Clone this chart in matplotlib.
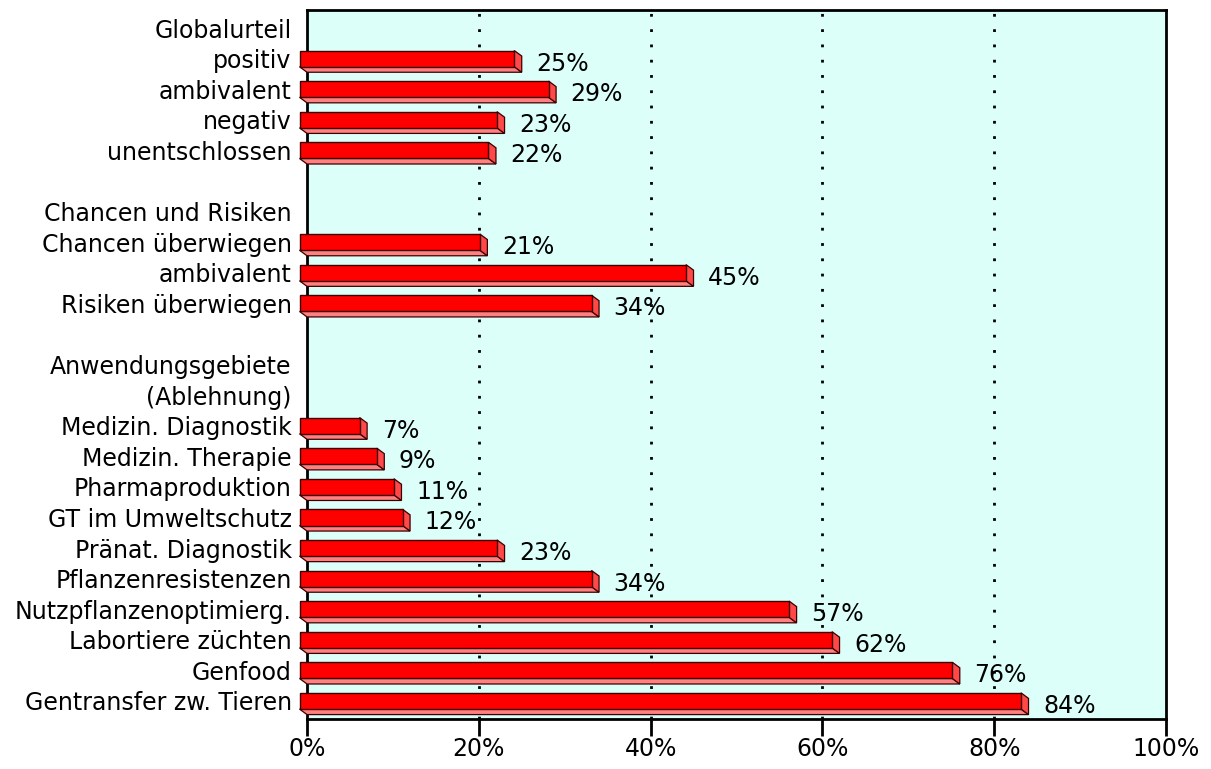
import matplotlib
matplotlib.use('Agg')
import matplotlib.pyplot as plt
from matplotlib.patches import Polygon

labels = ['Globalurteil', 'positiv', 'ambivalent', 'negativ', 'unentschlossen', '',
          'Chancen und Risiken', 'Chancen überwiegen', 'ambivalent', 'Risiken überwiegen', '',
          'Anwendungsgebiete', '(Ablehnung)', 'Medizin. Diagnostik', 'Medizin. Therapie',
          'Pharmaproduktion', 'GT im Umweltschutz', 'Pränat. Diagnostik',
          'Pflanzenresistenzen', 'Nutzpflanzenoptimierg.', 'Labortiere züchten',
          'Genfood', 'Gentransfer zw. Tieren']
values = [None, 25, 29, 23, 22, None,
          None, 21, 45, 34, None,
          None, None, 7, 9, 11, 12, 23, 34, 57, 62, 76, 84]
x_ticks = [0, 20, 40, 60, 80, 100]
x_tick_labels = ['0%', '20%', '40%', '60%', '80%', '100%']

plt.rcParams['font.family'] = 'DejaVu Sans'
fs = 17

fig = plt.figure(figsize=(12.11, 7.69), dpi=100)
ax = fig.add_axes([0.2535, 0.065, 0.7093, 0.922])
ax.set_facecolor('#dcfffa')

# 3d look: depth offset to the right (percent) and down (rows)
dx = 0.87
dy = 0.18
h = 0.53
edge = '#3a0000'

for i, v in enumerate(values):
    if v is None:
        continue
    top = i - h / 2
    bot = i + h / 2
    ax.barh(i, v, left=-dx, height=h, color='#ff0000', edgecolor=edge,
            linewidth=1.0, zorder=4, clip_on=False)
    bottom_face = Polygon([(-dx, bot), (v - dx, bot), (v, bot + dy), (0, bot + dy)],
                          closed=True, facecolor='#ff8080', edgecolor=edge,
                          linewidth=0.9, zorder=3, clip_on=False)
    side_face = Polygon([(v - dx, top), (v, top + dy), (v, bot + dy), (v - dx, bot)],
                        closed=True, facecolor='#ff4848', edgecolor=edge,
                        linewidth=0.9, zorder=3, clip_on=False)
    ax.add_patch(bottom_face)
    ax.add_patch(side_face)
    ax.text(v + 1.7, i + 0.16, '{}%'.format(v), fontsize=fs, va='center',
            ha='left', zorder=5)

for g in x_ticks[1:-1]:
    ax.axvline(g, color='black', linestyle=(0, (1, 4.5)), linewidth=2, zorder=1)

ax.set_xlim(0, 100)
ax.set_ylim(len(labels) - 1 + 0.59, -0.59)
ax.set_xticks(x_ticks)
ax.set_xticklabels(x_tick_labels, fontsize=fs)
ax.set_yticks(range(len(labels)))
ax.set_yticklabels(labels, fontsize=fs)
ax.tick_params(axis='y', length=0, pad=11)
ax.tick_params(axis='x', length=12, width=2, pad=1)
for s in ax.spines.values():
    s.set_linewidth(2)

fig.savefig('out.png', dpi=100)
